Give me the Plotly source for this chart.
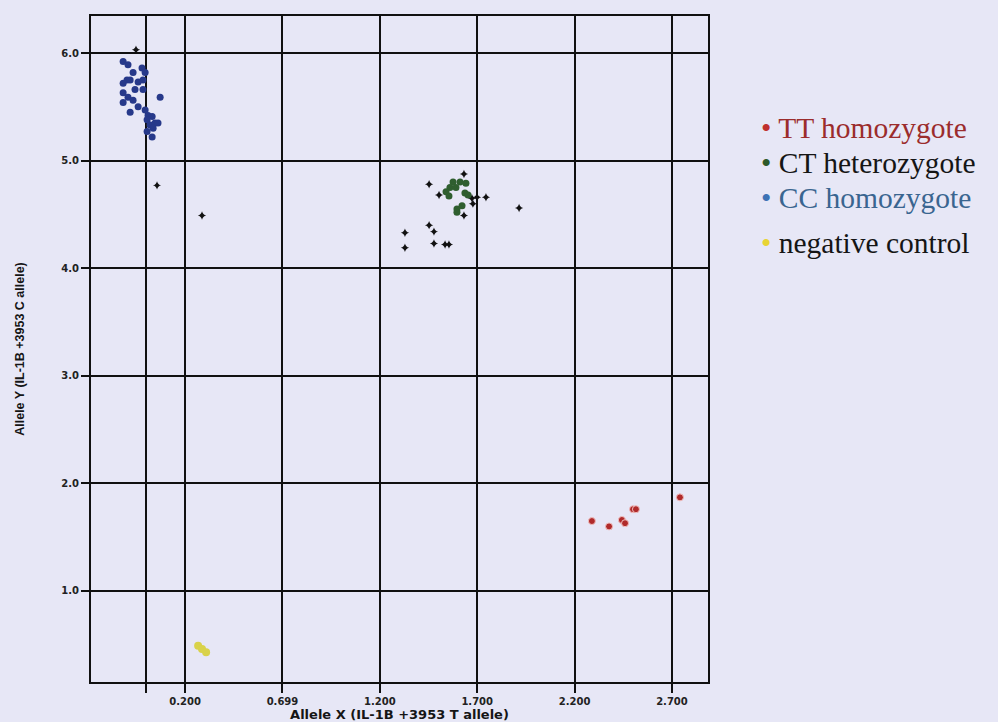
import plotly.graph_objects as go

# ---- data ----
cc_x = [-0.118, -0.093, -0.021, -0.067, -0.005, -0.098, -0.082, -0.041, -0.016, -0.118,
        -0.057, -0.016, -0.118, -0.093, 0.072, -0.067, -0.118, -0.041, -0.005, -0.082,
        0.010, 0.031, 0.005, 0.046, 0.020, 0.061, 0.036, 0.005, 0.031]
cc_y = [5.92, 5.89, 5.86, 5.82, 5.82, 5.75, 5.75, 5.73, 5.75, 5.72,
        5.66, 5.66, 5.63, 5.59, 5.59, 5.56, 5.54, 5.50, 5.47, 5.45,
        5.42, 5.41, 5.38, 5.35, 5.33, 5.35, 5.30, 5.27, 5.22]

ct_x = [1.576, 1.612, 1.642, 1.560, 1.591, 1.540, 1.555, 1.637, 1.653, 1.622, 1.596, 1.596]
ct_y = [4.80, 4.80, 4.79, 4.75, 4.75, 4.71, 4.67, 4.70, 4.68, 4.58, 4.55, 4.52]

tt_x = [2.289, 2.377, 2.443, 2.459, 2.500, 2.515, 2.741]
tt_y = [1.65, 1.60, 1.66, 1.63, 1.76, 1.76, 1.87]

neg_x = [0.267, 0.287, 0.308]
neg_y = [0.49, 0.46, 0.43]

und_x = [-0.052, 0.056, 0.287, 1.632, 1.453, 1.504, 1.673, 1.699, 1.745, 1.678, 1.915,
         1.632, 1.453, 1.329, 1.478, 1.478, 1.535, 1.555, 1.329]
und_y = [6.03, 4.77, 4.49, 4.875, 4.78, 4.68, 4.65, 4.66, 4.66, 4.60, 4.56,
         4.49, 4.40, 4.33, 4.34, 4.23, 4.22, 4.22, 4.19]

x_tickvals = [0.0, 0.2, 0.7, 1.2, 1.7, 2.2, 2.7]
x_ticktext = ["", "0.200", "0.699", "1.200", "1.700", "2.200", "2.700"]
y_tickvals = [1, 2, 3, 4, 5, 6]
y_ticktext = ["1.0", "2.0", "3.0", "4.0", "5.0", "6.0"]

legend_labels = ["TT homozygote", "CT heterozygote", "CC homozygote", "negative control"]
legend_bullets = ["#c0302e", "#2d5a2a", "#3d72b5", "#e8d434"]
legend_text_colors = ["#9b2c2c", "#151515", "#3a6590", "#151515"]

BG = "#e7e7f6"

fig = go.Figure()

fig.add_trace(go.Scatter(x=und_x, y=und_y, mode="markers",
                         marker=dict(symbol="star-diamond", size=6, color="#111111"),
                         showlegend=False))
fig.add_trace(go.Scatter(x=cc_x, y=cc_y, mode="markers",
                         marker=dict(symbol="circle", size=7, color="#27398a"),
                         showlegend=False))
fig.add_trace(go.Scatter(x=ct_x, y=ct_y, mode="markers",
                         marker=dict(symbol="circle", size=7, color="#2f5e2f"),
                         showlegend=False))
fig.add_trace(go.Scatter(x=tt_x, y=tt_y, mode="markers",
                         marker=dict(symbol="circle", size=7, color="#b02a2a",
                                     line=dict(color="#f0c0c0", width=1)),
                         showlegend=False))
fig.add_trace(go.Scatter(x=neg_x, y=neg_y, mode="markers",
                         marker=dict(symbol="circle", size=8, color="#d9d24a"),
                         showlegend=False))

tick_font = dict(family="DejaVu Sans", size=10, color="#222222", weight="bold")
fig.update_xaxes(range=[-0.283, 2.885], tickvals=x_tickvals, ticktext=x_ticktext,
                 showgrid=True, gridcolor="#111111", gridwidth=1.5, zeroline=False,
                 showline=True, linecolor="#111111", linewidth=2, mirror=True,
                 ticks="outside", ticklen=9, tickcolor="#111111", tickwidth=1.5,
                 tickfont=tick_font, automargin=False,
                 title=dict(text="<b>Allele X (IL-1B +3953 T allele)</b>", standoff=6,
                            font=dict(family="DejaVu Sans", size=13, color="#151515")))
fig.update_yaxes(range=[0.154, 6.344], tickvals=y_tickvals, ticktext=y_ticktext,
                 showgrid=True, gridcolor="#111111", gridwidth=1.5, zeroline=False,
                 showline=True, linecolor="#111111", linewidth=2, mirror=True,
                 ticks="outside", ticklen=8, tickcolor="#111111", tickwidth=1.5,
                 tickfont=tick_font, automargin=False,
                 title=dict(text="<b>Allele Y (IL-1B +3953 C allele)</b>", standoff=34,
                            font=dict(family="Liberation Sans, Arial", size=12.5, color="#151515")))

# legend line centres (pixels from top) converted to paper coordinates
legend_px = [128, 163, 198, 243]
for lab, bc, tc, py in zip(legend_labels, legend_bullets, legend_text_colors, legend_px):
    fig.add_annotation(xref="paper", yref="paper", x=(760 - 91) / 617, y=(682 - py) / 666,
                       xanchor="left", yanchor="middle", showarrow=False, borderpad=0,
                       text=f"<span style='color:{bc}'>•</span> <span style='color:{tc}'>{lab}</span>",
                       font=dict(family="Liberation Serif, Times New Roman", size=29.5))

fig.update_layout(width=998, height=722,
                  margin=dict(l=91, r=290, t=16, b=40),
                  paper_bgcolor=BG, plot_bgcolor=BG,
                  showlegend=False)

fig.write_html("out.html")
